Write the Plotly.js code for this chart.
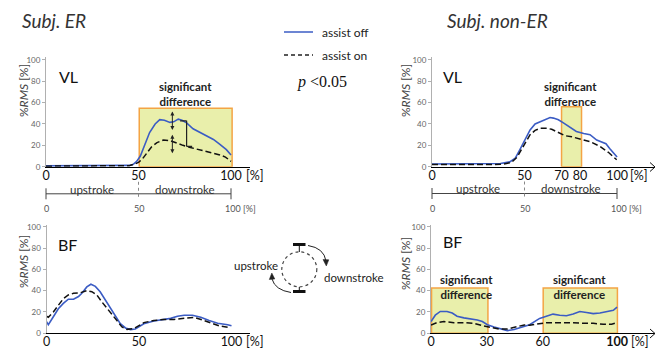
<!DOCTYPE html>
<html><head><meta charset="utf-8">
<script src="https://cdn.plot.ly/plotly-3.0.1.min.js"></script>
<style>html,body{margin:0;padding:0;background:#fff}#chart{width:656px;height:350px}</style>
</head><body><div id="chart"></div>
<script>
// ---------- data ----------
// VL, Subj. ER
const vlER_off_x = [0,10,20,30,40,45,47,49,51,53.5,56,59,61.5,64,67,69,71.5,73.5,76,79.5,83,87,90.5,94,97.5,100];
const vlER_off_y = [0.8,0.8,0.7,0.8,0.9,1.2,2,5,10,22,32,40,44,43.5,41.5,42,44.5,43.5,41,35.5,32.5,29,25.5,21,16,11];
const vlER_on_x  = [0,10,20,30,40,45,48,50,52,54.5,57,60,63.5,67,70.5,74,78,83,88.5,94,97,100];
const vlER_on_y  = [0.5,0.5,0.5,0.5,0.6,1,2.5,4,7,12.5,18.5,22.5,25,24.5,22,20,18,16,13.5,11,9,5];
// VL, Subj. non-ER
const vlNE_off_x = [0,10,20,30,37,42,45,47.5,50.3,53,55.7,58.4,61,63.8,65.6,68.3,71,74.6,78,82,85.4,89,92.6,94,96,100];
const vlNE_off_y = [2.5,2.5,2.3,2.5,3,4.5,8,16,25,34.5,40,42,44,46,45.5,44,41,37,33,31,30,25,22.5,21.5,17,9];
const vlNE_on_x  = [0,10,20,30,38,43,46,48,50.3,53,55.7,58.4,62,64.7,68.3,72,75.5,80,85.4,90.8,95.3,99.8];
const vlNE_on_y  = [2,1.8,1.8,2,2.2,4,9,15,22,30,34,36,36,35,32,29,28,26,23.5,19,13.5,6.5];
// BF, Subj. ER
const bfER_off_x = [0,1,3.7,6.4,9.1,11.8,14.6,17.3,19.1,21.8,24,26.4,29,31.8,34.5,37.2,39.9,42.7,45.4,48,49,52.6,58,63.5,67.1,70.8,74.4,78.9,83.4,87.9,92.5,97.9,100];
const bfER_off_y = [11,8,15.5,23,28,32,32,34.5,37.5,43.5,46,44,39,31,23.5,15.5,9,5,3.5,4,5,9,11.5,13,14,16,17,17,15,12,9.5,8,7];
const bfER_on_x  = [0,1,3.7,6.4,9.1,11.8,14.6,18.2,21.8,24.5,27.2,29.9,32.7,35.4,38.1,40.8,43.5,47.2,50.8,52.6,58,63.5,68.9,74.4,79.8,84.3,88.9,93.4,97.9];
const bfER_on_y  = [16,15,20,26.5,32.5,36,37.5,38,40,39,36,29.5,23.5,17,11,6,3.7,4.5,8,10,12,13,13,14,15,12.5,9.5,7,5.6];
// BF, Subj. non-ER
const bfNE_off_x = [0,2.3,5,8.6,11.4,14,17.7,21.3,24.9,27.6,30.3,33.9,37.5,41,44.7,48.3,53,58.4,62,65.6,69.2,72.8,76.4,80,83.6,87.2,90.8,94.4,98,100];
const bfNE_off_y = [11,17,20.5,20.5,19,16,14.5,13.5,12.5,11,8,6,4,2.5,3.5,5.5,8,14,16.3,18,17,16.5,18,20.5,19.5,18.5,19,20,21.5,24.5];
const bfNE_on_x  = [0,3.2,6.9,12.3,17.7,23.1,27.6,32.1,36.6,41,45.6,50.1,53,58.4,62,67.4,72.8,76.4,81.8,87.2,92.6,97.1,100];
const bfNE_on_y  = [7.8,10,11,10,10,9.4,7.2,5.7,4,4,5.7,7.8,7.5,9.4,10,10,10.4,10,9.4,9.4,8.5,8.5,10];

const yTicks = [0,20,40,60,80,100];
const xTicksER = [0,50,100];
const xTicksVLNE = [0,50,70,80,100];
const xTicksBFNE = [0,30,60,100];
const legendNames = ['assist off','assist on'];

// ---------- layout helpers ----------
const W = 656, H = 350;
const dx = (a,b) => [a/W, b/W];
const dy = (top,bot) => [1-bot/H, 1-top/H];
const SANS = 'Lato, "Liberation Sans", sans-serif';
const BLUE = '#3b5cc4';

function tr(x,y,xa,ya,k){
  return {type:'scatter',mode:'lines',x:x,y:y,xaxis:xa,yaxis:ya,name:legendNames[k],showlegend:false,hoverinfo:'skip',
    line: k===0 ? {color:BLUE,width:1.6} : {color:'#111',width:1.5,dash:'6px,3px'}};
}
const data = [
  tr(vlER_off_x,vlER_off_y,'x','y',0), tr(vlER_on_x,vlER_on_y,'x','y',1),
  tr(vlNE_off_x,vlNE_off_y,'x2','y2',0), tr(vlNE_on_x,vlNE_on_y,'x2','y2',1),
  tr(bfER_off_x,bfER_off_y,'x3','y3',0), tr(bfER_on_x,bfER_on_y,'x3','y3',1),
  tr(bfNE_off_x,bfNE_off_y,'x4','y4',0), tr(bfNE_on_x,bfNE_on_y,'x4','y4',1),
  {type:'scatter',x:[],y:[],xaxis:'x5',yaxis:'y5',showlegend:false,hoverinfo:'skip'}
];

function xax(dom,range,vals,text,anchor){
  return {domain:dom,range:range,anchor:anchor,showline:true,linecolor:'#000',linewidth:1,zeroline:false,showgrid:false,
    tickmode:'array',tickvals:vals,ticktext:text,ticks:'',ticklabelstandoff:-3,tickfont:{family:SANS,size:12.5,color:'#111'},fixedrange:true};
}
function yax(dom,range,anchor){
  return {domain:dom,range:range,anchor:anchor,showline:true,linecolor:'#b0b0b0',linewidth:1,zeroline:false,showgrid:false,
    tickmode:'array',tickvals:yTicks,ticks:'outside',ticklen:3,tickcolor:'#b0b0b0',tickfont:{family:SANS,size:8,color:'#666'},fixedrange:true};
}

const shapes = [];
const ann = [];
const P = (o) => Object.assign({xref:'x5',yref:'y5'},o);
function box(xr,yr,x0,x1,y1){
  shapes.push({type:'rect',xref:xr,yref:yr,x0:x0,x1:x1,y0:0,y1:y1,fillcolor:'#e9efab',line:{color:'#f4a444',width:1.5},layer:'below'});
}
box('x','y',50.4,100.6,54.7);
box('x2','y2',70,80.8,56.2);
box('x4','y4',0.3,30.6,42.5);
box('x4','y4',60.3,100.2,42.5);

function seg(x0,y0,x1,y1,c,w,dash){ shapes.push(P({type:'line',x0:x0,y0:y0,x1:x1,y1:y1,line:{color:c||'#333',width:w||1,dash:dash||'solid'}})); }
function txt(x,y,t,o){ ann.push(P(Object.assign({x:x,y:y,text:t,showarrow:false,font:{family:SANS,size:12,color:'#222'}},o||{}))); }

// titles
txt(20,20,'<i>Subj. ER</i>',{xanchor:'left',font:{family:SANS,size:19,color:'#333'}});
txt(445,20,'<i>Subj. non-ER</i>',{xanchor:'left',font:{family:SANS,size:19,color:'#333'}});
// muscle labels
txt(68,76.5,'VL',{font:{family:SANS,size:16,color:'#111'}});
txt(452,76.5,'VL',{font:{family:SANS,size:16,color:'#111'}});
txt(67,244,'BF',{font:{family:SANS,size:16,color:'#111'}});
txt(452,241,'BF',{font:{family:SANS,size:16,color:'#111'}});
// y titles
[[23,91],[405,91],[23,262],[405,264]].forEach(p=>txt(p[0],p[1],'%<i>RMS</i> [%]',{textangle:-90,font:{family:SANS,size:12,color:'#444'}}));
// significant difference
const SD = 'significant<br>difference';
const sdf = {family:SANS,size:11.5,color:'#222',weight:'bold'};
txt(185,94,'<b>'+SD+'</b>',{font:sdf});
txt(570,94,'<b>'+SD+'</b>',{font:sdf});
txt(466,286.5,'<b>'+SD+'</b>',{font:sdf});
txt(579,286.5,'<b>'+SD+'</b>',{font:sdf});
// [%] after 100
const pf = {family:SANS,size:12.5,color:'#111'};
txt(244,175.5,'[%]',{xanchor:'left',font:pf});
txt(244,341.5,'[%]',{xanchor:'left',font:pf});
txt(628,175.5,'[%]',{xanchor:'left',font:pf});
txt(629,341.5,'[%]',{xanchor:'left',font:pf});
// axis arrows (right panels)
shapes.push(P({type:'path',path:'M 650 162.5 L 655 167 L 650 171.5',line:{color:'#111',width:1}}));
shapes.push(P({type:'path',path:'M 650 329 L 655 333.5 L 650 338',line:{color:'#111',width:1}}));

// upstroke / downstroke scales
function stroke(x0,x1,ly){
  const xm=(x0+x1)/2;
  seg(x0,ly,x1,ly,'#444',1);
  seg(x0,ly-5.5,x0,ly+5.5,'#444',1);
  seg(x1,ly-5.5,x1,ly+5.5,'#444',1);
  seg(xm,ly-12,xm,ly+3,'#888',1,'dot');
  txt((x0+xm)/2,ly-4.8,'upstroke',{font:{family:SANS,size:11.5,color:'#333'}});
  txt((xm+x1)/2,ly-4.8,'downstroke',{font:{family:SANS,size:11.5,color:'#333'}});
  const sf={family:SANS,size:9,color:'#555'};
  txt(x0,208,'0',{font:sf});
  txt(xm,208,'50',{font:sf});
  txt(x1-8,208,'100 [%]',{xanchor:'left',font:sf});
}
stroke(46,231,193.8);
stroke(432,617,193.5);

// legend
seg(284,32,313,32,BLUE,1.5);
seg(284,55,313,55,'#222',1.3,'4px,3px');
txt(320,32,'assist off',{xanchor:'left',font:{family:SANS,size:12,color:'#222'}});
txt(320,55,'assist on',{xanchor:'left',font:{family:SANS,size:12,color:'#222'}});
txt(322,82,'<i>p</i> &lt;0.05',{font:{family:'"Liberation Serif", serif',size:16,color:'#111'}});

// cycle diagram
shapes.push(P({type:'circle',x0:281.8,x1:316.8,y0:251.8,y1:286.8,line:{color:'#444',width:1.2,dash:'dot'}}));
seg(293,244.5,305.5,244.5,'#111',3);
seg(299.3,244.5,299.3,252,'#111',1);
seg(293,291.5,305.5,291.5,'#111',3);
seg(299.3,287,299.3,291.5,'#111',1);
shapes.push(P({type:'path',path:'M 308 245.5 Q 324 248 326 261',line:{color:'#222',width:1}}));
shapes.push(P({type:'path',path:'M 323 259.5 L 326.3 266 L 328.8 259.8 Z',fillcolor:'#222',line:{color:'#222',width:0.5}}));
shapes.push(P({type:'path',path:'M 291 292.5 Q 275 290 272 279',line:{color:'#222',width:1}}));
shapes.push(P({type:'path',path:'M 269.3 279.5 L 271.8 273 L 274.8 279 Z',fillcolor:'#222',line:{color:'#222',width:0.5}}));
txt(280,265,'upstroke',{xanchor:'right',font:{family:SANS,size:11.5,color:'#222'}});
txt(322,277,'downstroke',{xanchor:'left',font:{family:SANS,size:11.5,color:'#222'}});

// difference arrows in top-left panel
[[51.7,33],[29.9,11.2]].forEach(a=>ann.push({xref:'x',yref:'y',axref:'x',ayref:'y',x:68.3,y:a[0],ax:68.3,ay:a[1],text:'',showarrow:true,
  arrowside:'end+start',arrowhead:2,arrowsize:0.8,arrowwidth:1,arrowcolor:'#222',standoff:0,startstandoff:0}));
shapes.push({type:'line',xref:'x',yref:'y',x0:76,x1:76,y0:43,y1:19,line:{color:'#222',width:1.2}});
shapes.push({type:'line',xref:'x',yref:'y',x0:72.5,x1:76,y0:43,y1:43,line:{color:'#222',width:1.2}});
shapes.push({type:'line',xref:'x',yref:'y',x0:76,x1:79,y0:19,y1:19,line:{color:'#222',width:1.2}});

const layout = {
  width:W,height:H,margin:{l:0,r:0,t:0,b:0},paper_bgcolor:'#fff',plot_bgcolor:'rgba(0,0,0,0)',showlegend:false,
  xaxis: xax(dx(46,249.5),[0,110],xTicksER,['0','50','100'],'y'),
  yaxis: yax(dy(56.7,166.7),[0,103],'x'),
  xaxis2: xax(dx(432,655),[0,120.5],xTicksVLNE,['0','50','70','80','100'],'y2'),
  yaxis2: yax(dy(56.7,166.7),[0,103],'x2'),
  xaxis3: xax(dx(46.5,250),[0,110],xTicksER,['0','50','100'],'y3'),
  yaxis3: yax(dy(225,333.3),[0,101.6],'x3'),
  xaxis4: xax(dx(431,655),[0,120.4],xTicksBFNE,['0','30','60','<b>100</b>'],'y4'),
  yaxis4: yax(dy(225,333.3),[0,101.6],'x4'),
  xaxis5: {domain:[0,1],range:[0,W],visible:false,fixedrange:true,anchor:'y5'},
  yaxis5: {domain:[0,1],range:[H,0],visible:false,fixedrange:true,anchor:'x5'},
  shapes:shapes, annotations:ann
};
Plotly.newPlot('chart',data,layout,{displayModeBar:false,staticPlot:true});
</script>
</body></html>
